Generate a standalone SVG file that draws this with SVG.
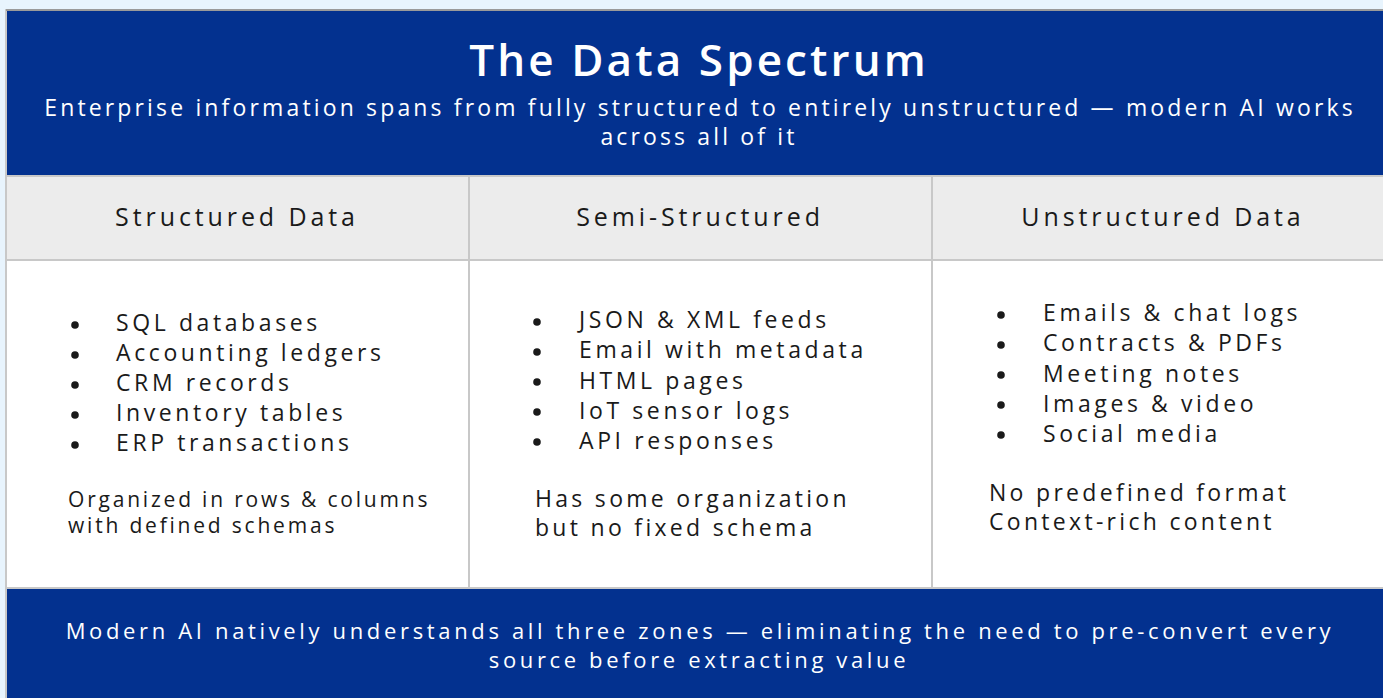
<svg xmlns="http://www.w3.org/2000/svg" width="1383" height="698" viewBox="0 0 1383 698">
<style>
text{font-family:"Open Sans","Noto Sans","Liberation Sans",sans-serif;}
.w{fill:#ffffff;}
.k{fill:#1a1a1a;}
.title{font-size:44px;font-weight:600;letter-spacing:3.1px;}
.sub{font-size:23px;letter-spacing:3.15px;}
.hd{font-size:25px;letter-spacing:3.9px;}
.li{font-size:23px;letter-spacing:3.6px;}
.nt{font-size:21px;letter-spacing:2.8px;}
.nt2{font-size:23px;letter-spacing:3.3px;}
.ft{font-size:22px;letter-spacing:3.65px;}
.line{stroke:#c8c8c8;stroke-width:2;fill:none;}
.dot{fill:#1a1a1a;}
</style>
<rect x="0" y="0" width="1383" height="698" fill="#e8f4fd"/>
<g id="frame">
<rect x="6" y="10" width="1390" height="700" fill="#ffffff" stroke="#c8c8c8" stroke-width="2"/>
<line x1="6" y1="10" x2="1383" y2="10" stroke="#9a9a9a" stroke-width="2"/>
</g>
<g id="header">
<rect x="7" y="11" width="1390" height="164" fill="#03318f"/>
<text class="w title" x="699" y="76" text-anchor="middle">The Data Spectrum</text>
<text class="w sub" x="700" y="116" text-anchor="middle">Enterprise information spans from fully structured to entirely unstructured — modern AI works</text>
<text class="w sub" x="699" y="145" text-anchor="middle">across all of it</text>
</g>
<g id="col-headers">
<rect x="7" y="177" width="1390" height="82" fill="#ececec"/>
<text class="k hd" x="237" y="226" text-anchor="middle">Structured Data</text>
<text class="k hd" x="700" y="226" text-anchor="middle">Semi-Structured</text>
<text class="k hd" x="1163" y="226" text-anchor="middle">Unstructured Data</text>
</g>
<g id="connectors">
<line class="line" x1="6" y1="176" x2="1383" y2="176"/>
<line class="line" x1="6" y1="260" x2="1383" y2="260"/>
<line class="line" x1="6" y1="588" x2="1383" y2="588"/>
<line class="line" x1="469" y1="177" x2="469" y2="587"/>
<line class="line" x1="932" y1="177" x2="932" y2="587"/>
</g>
<g id="structured">
<circle class="dot" cx="75" cy="325" r="3.8"/>
<circle class="dot" cx="75" cy="355" r="3.8"/>
<circle class="dot" cx="75" cy="385" r="3.8"/>
<circle class="dot" cx="75" cy="415" r="3.8"/>
<circle class="dot" cx="75" cy="445" r="3.8"/>
<text class="k li" x="116" y="331">SQL databases</text>
<text class="k li" x="116" y="361">Accounting ledgers</text>
<text class="k li" x="116" y="391">CRM records</text>
<text class="k li" x="116" y="421">Inventory tables</text>
<text class="k li" x="116" y="451">ERP transactions</text>
<text class="k nt" x="68" y="507">Organized in rows &amp; columns</text>
<text class="k nt" x="68" y="533">with defined schemas</text>
</g>
<g id="semi">
<circle class="dot" cx="537" cy="322" r="3.8"/>
<circle class="dot" cx="537" cy="352" r="3.8"/>
<circle class="dot" cx="537" cy="382" r="3.8"/>
<circle class="dot" cx="537" cy="412" r="3.8"/>
<circle class="dot" cx="537" cy="442" r="3.8"/>
<text class="k li" x="579" y="328">JSON &amp; XML feeds</text>
<text class="k li" x="579" y="358">Email with metadata</text>
<text class="k li" x="579" y="389">HTML pages</text>
<text class="k li" x="579" y="419">IoT sensor logs</text>
<text class="k li" x="579" y="449">API responses</text>
<text class="k nt2" x="535" y="507">Has some organization</text>
<text class="k nt2" x="535" y="536">but no fixed schema</text>
</g>
<g id="unstructured">
<circle class="dot" cx="1001" cy="315" r="3.8"/>
<circle class="dot" cx="1001" cy="345" r="3.8"/>
<circle class="dot" cx="1001" cy="375" r="3.8"/>
<circle class="dot" cx="1001" cy="405" r="3.8"/>
<circle class="dot" cx="1001" cy="435" r="3.8"/>
<text class="k li" x="1043" y="321">Emails &amp; chat logs</text>
<text class="k li" x="1043" y="351">Contracts &amp; PDFs</text>
<text class="k li" x="1043" y="382">Meeting notes</text>
<text class="k li" x="1043" y="412">Images &amp; video</text>
<text class="k li" x="1043" y="442">Social media</text>
<text class="k nt2" x="989" y="501">No predefined format</text>
<text class="k nt2" x="989" y="530">Context-rich content</text>
</g>
<g id="footer">
<rect x="7" y="589" width="1390" height="110" fill="#03318f"/>
<text class="w ft" x="700" y="639" text-anchor="middle">Modern AI natively understands all three zones — eliminating the need to pre-convert every</text>
<text class="w ft" x="699" y="668" text-anchor="middle">source before extracting value</text>
</g>
</svg>
